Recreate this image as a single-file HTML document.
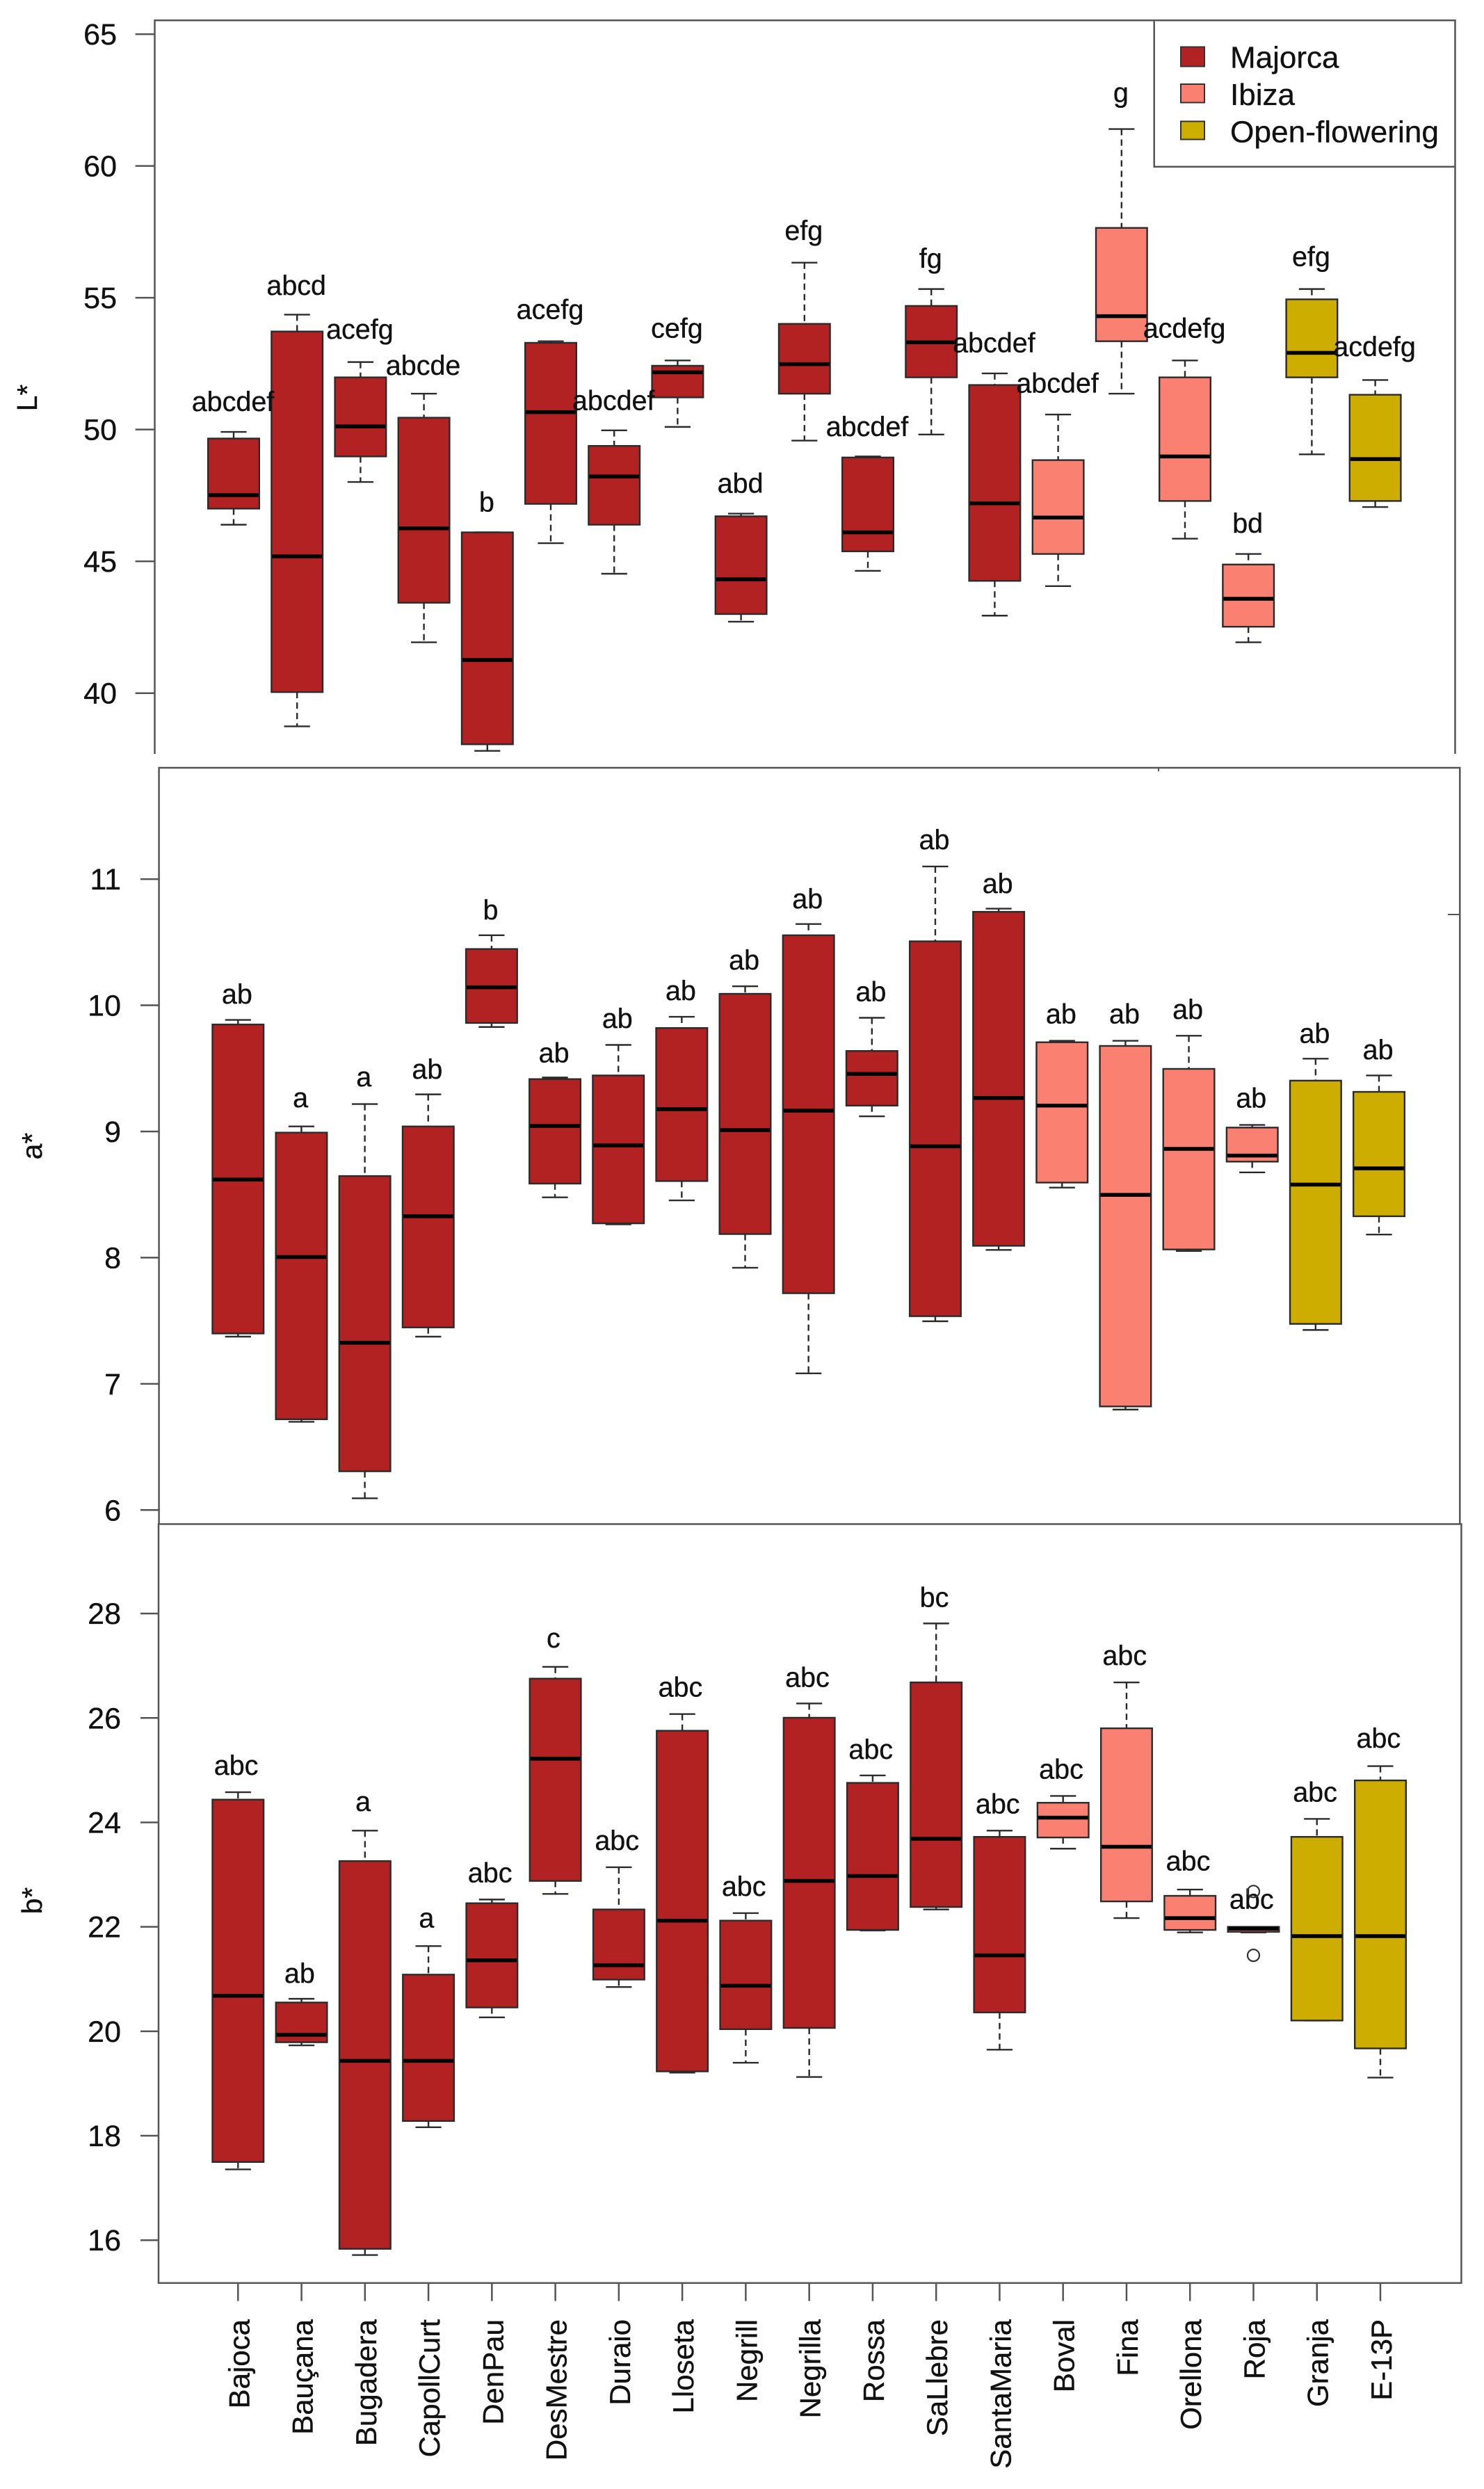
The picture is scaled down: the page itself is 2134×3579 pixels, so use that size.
<!DOCTYPE html>
<html lang="en">
<head>
<meta charset="utf-8">
<title>L*, a*, b* boxplots by cultivar</title>
<style>
html,body{margin:0;padding:0;background:#fff;}
svg{display:block;}
text{font-family:"Liberation Sans",sans-serif;fill:#111;stroke:#111;stroke-width:0.35px;}
</style>
</head>
<body>
<svg id="chart" xmlns="http://www.w3.org/2000/svg" width="2134" height="3579" viewBox="0 0 2134 3579">
  <rect x="0" y="0" width="2134" height="3579" fill="#ffffff"/>
  <g id="panel-l"></g>
  <g id="panel-a"></g>
  <g id="panel-b"></g>

  <path d="M222.5 1084V29.3H2092.5V1084" fill="none" stroke="#555" stroke-width="2.5"/>
  <path d="M228.6 2191V1104H2099.3V2191" fill="none" stroke="#555" stroke-width="2.5"/>
  <rect x="228" y="2191.5" width="1873.4" height="1091.3" fill="none" stroke="#555" stroke-width="2.5"/>
  <path d="M1666 1104V1109" stroke="#555" stroke-width="2"/>
  <path d="M2082 1315H2099" stroke="#555" stroke-width="2"/>

  <text transform="translate(53 572) rotate(-90)" text-anchor="middle" font-size="41">L*</text>
  <text transform="translate(60 1648) rotate(-90)" text-anchor="middle" font-size="41">a*</text>
  <text transform="translate(60 2733) rotate(-90)" text-anchor="middle" font-size="41">b*</text>

  <g>
    <path d="M1659.7 29.3V239.8H2092.5" fill="#fff" stroke="#555" stroke-width="2.5"/>
    <rect x="1698" y="67.5" width="34" height="28" fill="#B22222" stroke="#333" stroke-width="2"/>
    <text x="1769" y="97.5" font-size="44">Majorca</text>
    <rect x="1698" y="121" width="34" height="26.5" fill="#FA8072" stroke="#333" stroke-width="2"/>
    <text x="1769" y="151" font-size="44">Ibiza</text>
    <rect x="1698" y="174.5" width="34" height="26" fill="#CDAD00" stroke="#333" stroke-width="2"/>
    <text x="1769" y="204.6" font-size="44" textLength="300" lengthAdjust="spacingAndGlyphs">Open-flowering</text>
  </g>
</svg>
<script>
const categories = ["Bajoca","Bauçana","Bugadera","CapollCurt","DenPau","DesMestre","Duraio","Lloseta","Negrill","Negrilla","Rossa","SaLlebre","SantaMaria","Boval","Fina","Orellona","Roja","Granja","E-13P"];
const origins = ["Majorca","Majorca","Majorca","Majorca","Majorca","Majorca","Majorca","Majorca","Majorca","Majorca","Majorca","Majorca","Majorca","Ibiza","Ibiza","Ibiza","Ibiza","Open-flowering","Open-flowering"];

const lTicks = [40,45,50,55,60,65];
const lWhiskerHigh = [49.91,54.36,52.56,51.36,46.10,53.35,49.97,52.62,46.81,56.33,48.98,55.33,52.13,50.57,61.40,52.62,45.28,55.33,51.88];
const lQ3 = [49.66,53.72,51.98,50.45,46.10,53.29,49.38,52.42,46.71,54.01,48.94,54.69,51.69,48.84,57.65,51.98,44.88,54.94,51.32];
const lMedian = [47.51,45.19,50.12,46.25,41.26,50.66,48.22,52.17,44.32,52.48,46.10,53.31,47.20,46.66,54.30,48.98,43.58,52.91,48.88];
const lQ1 = [47.00,40.04,48.98,43.43,38.06,47.18,46.39,51.22,43.00,51.36,45.38,51.98,44.26,45.28,53.35,47.29,42.52,51.98,47.29];
const lWhiskerLow = [46.39,38.74,48.01,41.93,37.81,45.69,44.53,50.10,42.71,49.58,44.64,49.81,42.94,44.06,51.36,45.86,41.93,49.06,47.06];
const lLetters = ["abcdef","abcd","acefg","abcde","b","acefg","abcdef","cefg","abd","efg","abcdef","fg","abcdef","abcdef","g","acdefg","bd","efg","acdefg"];
const lLetterLevel = [50.70,55.11,53.45,52.07,46.89,54.20,50.74,53.49,47.60,57.20,49.75,56.14,52.93,51.40,62.43,53.49,46.08,56.20,52.79];

const aTicks = [6,7,8,9,10,11];
const aWhiskerHigh = [9.884,9.040,9.217,9.294,10.555,9.428,9.686,9.909,10.151,10.644,9.901,11.10,10.766,9.719,9.719,9.759,9.052,9.577,9.444];
const aQ3 = [9.848,8.991,8.647,9.040,10.446,9.415,9.444,9.820,10.091,10.555,9.638,10.507,10.741,9.707,9.678,9.496,9.031,9.403,9.314];
const aMedian = [8.619,8.005,7.326,8.328,10.143,9.044,8.890,9.177,9.011,9.165,9.456,8.882,9.266,9.205,8.498,8.862,8.809,8.579,8.708];
const aQ1 = [7.399,6.719,6.307,7.447,9.860,8.587,8.272,8.607,8.187,7.718,9.205,7.536,8.094,8.595,6.821,8.065,8.761,7.475,8.328];
const aWhiskerLow = [7.374,6.699,6.093,7.374,9.828,8.478,8.264,8.454,7.920,7.083,9.120,7.496,8.061,8.555,6.796,8.053,8.676,7.427,8.183];
const aLetters = ["ab","a","a","ab","b","ab","ab","ab","ab","ab","ab","ab","ab","ab","ab","ab","ab","ab","ab"];
const aLetterLevel = [10.014,9.193,9.359,9.420,10.681,9.549,9.820,10.042,10.285,10.770,10.034,11.238,10.891,9.856,9.856,9.892,9.189,9.702,9.573];

const bTicks = [16,18,20,22,24,26,28];
const bWhiskerHigh = [24.578,20.622,23.842,21.632,22.523,26.978,23.141,26.075,22.262,26.277,24.899,27.810,23.842,24.507,26.681,22.713,21.97,24.067,25.077];
const bQ3 = [24.436,20.551,23.260,21.085,22.452,26.753,22.333,25.755,22.119,26.004,24.757,26.681,23.723,24.376,25.802,22.594,22.00,23.723,24.804];
const bMedian = [20.681,19.933,19.434,19.434,21.359,25.220,21.264,22.119,20.872,22.879,22.974,23.687,21.454,24.091,23.533,22.167,21.965,21.822,21.822];
const bQ1 = [17.497,19.790,15.834,18.282,20.456,22.879,20.990,19.232,20.040,20.064,21.941,22.380,20.361,23.711,22.487,21.941,21.905,20.206,19.672];
const bWhiskerLow = [17.355,19.731,15.715,18.163,20.266,22.630,20.848,19.208,19.398,19.125,21.929,22.333,19.648,23.497,22.167,21.893,21.893,20.206,19.113];
const bLetters = ["abc","ab","a","a","abc","c","abc","abc","abc","abc","abc","bc","abc","abc","abc","abc","abc","abc","abc"];
const bLetterLevel = [24.911,20.931,24.222,21.988,22.856,27.347,23.473,26.408,22.594,26.598,25.220,28.131,24.174,24.840,27.014,23.081,22.345,24.400,25.434];
const bOutlierCategory = ["Roja","Roja"];
const bOutlierValue = [22.677,21.454];

const originFill = {"Majorca":"#B22222","Ibiza":"#FA8072","Open-flowering":"#CDAD00"};
const SVG_NS = "http://www.w3.org/2000/svg";

function shape(parent, tag, attrs, content) {
  const el = document.createElementNS(SVG_NS, tag);
  for (const key in attrs) {
    el.setAttribute(key, attrs[key]);
  }
  if (content !== undefined) {
    el.textContent = content;
  }
  parent.appendChild(el);
  return el;
}

function linearAxis(v0, p0, v1, p1) {
  return function (v) {
    return p0 + (v - v0) * (p1 - p0) / (v1 - v0);
  };
}

function slug(s) {
  return s.toLowerCase().replace(/ç/g, "c").replace(/[^a-z0-9]+/g, "-");
}

function drawPanel(cfg) {
  const root = document.getElementById(cfg.id);
  const x = cfg.x;
  const y = cfg.y;
  const ink = "#2b2b2b";

  cfg.ticks.forEach(function (t) {
    const tick = shape(root, "line", {x1: cfg.tickLeft, x2: cfg.frameLeft, y1: y(t), y2: y(t), stroke: "#555", "stroke-width": 2.5});
    
    
    const label = shape(root, "text", {x: cfg.tickLabelRight, y: y(t) + 15, "text-anchor": "end", "font-size": 43}, String(t));
    
    
  });

  categories.forEach(function (name, i) {
    const g = shape(root, "g", {});
    
    
    const cx = x(i);
    const hw = 36.8;
    const capHw = 18.6;

    shape(g, "line", {x1: cx, x2: cx, y1: y(cfg.whiskerHigh[i]), y2: y(cfg.q3[i]), stroke: ink, "stroke-width": 2.4, "stroke-dasharray": "9 6"});
    shape(g, "line", {x1: cx, x2: cx, y1: y(cfg.q1[i]), y2: y(cfg.whiskerLow[i]), stroke: ink, "stroke-width": 2.4, "stroke-dasharray": "9 6"});
    shape(g, "line", {x1: cx - capHw, x2: cx + capHw, y1: y(cfg.whiskerHigh[i]), y2: y(cfg.whiskerHigh[i]), stroke: ink, "stroke-width": 2.4});
    shape(g, "line", {x1: cx - capHw, x2: cx + capHw, y1: y(cfg.whiskerLow[i]), y2: y(cfg.whiskerLow[i]), stroke: ink, "stroke-width": 2.4});
    shape(g, "rect", {x: cx - hw, y: y(cfg.q3[i]), width: hw * 2, height: y(cfg.q1[i]) - y(cfg.q3[i]), fill: originFill[origins[i]], stroke: ink, "stroke-width": 2.4});
    shape(g, "line", {x1: cx - hw + 1, x2: cx + hw - 1, y1: y(cfg.median[i]), y2: y(cfg.median[i]), stroke: "#000", "stroke-width": 5.5});
  });

  categories.forEach(function (name, i) {
    const letter = shape(root, "text", {x: x(i) + cfg.letterDx, y: y(cfg.letterLevel[i]), "text-anchor": "middle", "font-size": 39.5}, cfg.letters[i]);
    
    
  });
}

drawPanel({
  id: "panel-l", key: "l",
  x: linearAxis(0, 336, 18, 1977.6),
  y: linearAxis(40, 996.7, 65, 49.1),
  ticks: lTicks, frameLeft: 222.5, tickLeft: 194.6, tickLabelRight: 168,
  whiskerHigh: lWhiskerHigh, q3: lQ3, median: lMedian, q1: lQ1, whiskerLow: lWhiskerLow,
  letters: lLetters, letterLevel: lLetterLevel, letterDx: -1
});

drawPanel({
  id: "panel-a", key: "a",
  x: linearAxis(0, 342.3, 18, 1983),
  y: linearAxis(6, 2171.3, 11, 1264.1),
  ticks: aTicks, frameLeft: 228.6, tickLeft: 202, tickLabelRight: 174,
  whiskerHigh: aWhiskerHigh, q3: aQ3, median: aMedian, q1: aQ1, whiskerLow: aWhiskerLow,
  letters: aLetters, letterLevel: aLetterLevel, letterDx: -1.4
});

const bX = linearAxis(0, 342.3, 18, 1985);
const bY = linearAxis(16, 3221.2, 28, 2320.1);

drawPanel({
  id: "panel-b", key: "b",
  x: bX,
  y: bY,
  ticks: bTicks, frameLeft: 228, tickLeft: 202, tickLabelRight: 174,
  whiskerHigh: bWhiskerHigh, q3: bQ3, median: bMedian, q1: bQ1, whiskerLow: bWhiskerLow,
  letters: bLetters, letterLevel: bLetterLevel, letterDx: -2.7
});

const panelB = document.getElementById("panel-b");

bOutlierValue.forEach(function (v, i) {
  const dot = shape(panelB, "circle", {cx: bX(categories.indexOf(bOutlierCategory[i])), cy: bY(v), r: 8.5, fill: "none", stroke: "#333", "stroke-width": 2.2});
  
  
});

categories.forEach(function (name, i) {
  const cx = bX(i);
  const tick = shape(panelB, "line", {x1: cx, x2: cx, y1: 3282.8, y2: 3308.7, stroke: "#555", "stroke-width": 2.5});
  
  
  const label = shape(panelB, "text", {transform: "translate(" + (cx + 16) + " 3335) rotate(-90)", "text-anchor": "end", "font-size": 42}, name);
  
  
});
</script>
</body>
</html>
